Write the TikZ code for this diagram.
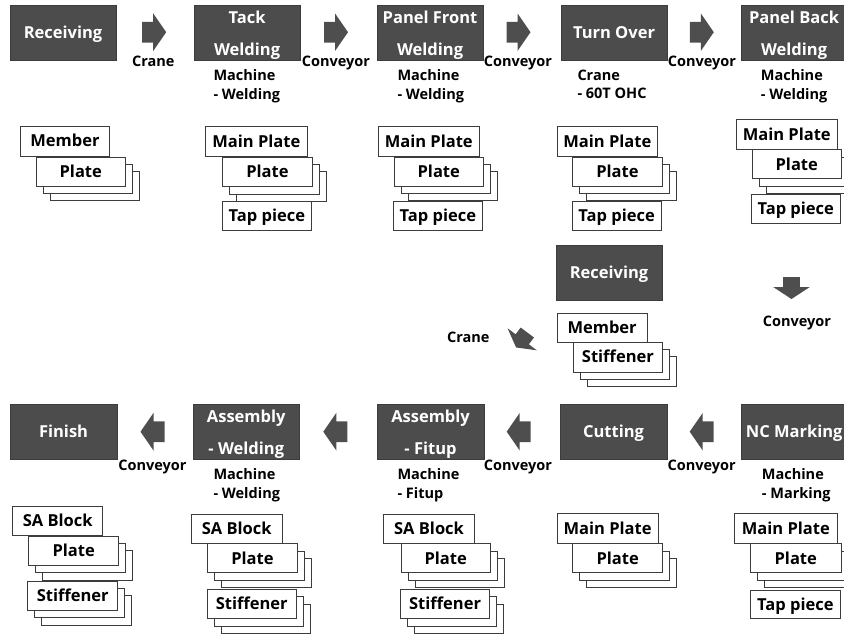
\documentclass[tikz,border=0pt]{standalone}
\usepackage{fontspec}
\setmainfont{Open Sans}
\usetikzlibrary{shadows}

\definecolor{stagegray}{RGB}{76,76,76}
\definecolor{stageedge}{RGB}{60,60,60}
\definecolor{arrowgray}{RGB}{78,78,78}
\definecolor{itemedge}{RGB}{60,60,60}

\newcommand\stagefont{\fontsize{16.5}{32}\selectfont\bfseries}
\newcommand\itemfont{\fontsize{16.5}{20}\selectfont\bfseries}
\newcommand\notefont{\fontsize{14.5}{18.5}\selectfont\bfseries}

\begin{document}
\begin{tikzpicture}[x=1pt, y=-1pt,
  stage/.style={fill=stagegray, draw=stageedge, line width=0.6pt, anchor=north west,
    inner sep=0pt, minimum width=105.5pt, minimum height=54.5pt, text=white,
    font=\stagefont, align=center},
  oneline/.style={text height=12pt, text depth=0.4pt},
  wide/.style={minimum width=106.5pt},
  item/.style={draw=itemedge, fill=white, line width=0.8pt, anchor=north west,
    inner sep=0pt, minimum height=29.5pt, font=\itemfont, oneline},
  layered/.style={item, double copy shadow={shadow xshift=7pt, shadow yshift=-7.3pt,
    draw=itemedge, fill=white, line width=0.8pt}},
  note/.style={anchor=north west, inner sep=0pt, align=left, font=\notefont},
  carrier/.style={anchor=base, inner sep=0pt, font=\notefont},
  blockarr/.pic={\fill[arrowgray] (-12,-10.3) -- (-1,-10.3) -- (-1,-18.8) -- (12,0)
    -- (-1,18.8) -- (-1,10.3) -- (-12,10.3) -- cycle;},
  squatarr/.pic={\fill[arrowgray] (-10,-8.3) -- (0,-8.3) -- (0,-18.3) -- (12,0)
    -- (0,18.3) -- (0,8.3) -- (-10,8.3) -- cycle;}
]
\useasboundingbox (0,0) rectangle (844,635);
\clip (0,0) rectangle (844,635);

% ---------- upper line: panel assembly ----------
\node[stage, oneline] (recvA) at (10,5) {Receiving};
\node[stage] (tack) at (194,5) {\rule{0pt}{17pt}Tack\\Welding};
\node[stage] (pfront) at (377,5) {\rule{0pt}{17pt}Panel Front\\Welding};
\node[stage, oneline] (turn) at (561,5) {Turn Over};
\node[stage] (pback) at (741,5) {\rule{0pt}{17pt}Panel Back\\Welding};

\pic at (154.2,32.2) {blockarr};
\pic at (336,32.2) {blockarr};
\pic at (518.5,32.2) {blockarr};
\pic at (701.8,32.2) {blockarr};

\node[carrier] (c1) at (153.3,66.7) {Crane};
\node[carrier] (c2) at (336,66.7) {Conveyor};
\node[carrier] (c3) at (518,66.7) {Conveyor};
\node[carrier] (c4) at (702,66.7) {Conveyor};

\node[note] (n2) at (213.3,69.5) {Machine\\- Welding};
\node[note] (n3) at (397.3,69.5) {Machine\\- Welding};
\node[note] (n4) at (577.3,69.5) {Crane\\- 60T OHC};
\node[note] (n5) at (760.7,69.5) {Machine\\- Welding};

% parts handled at each station
\node[item, minimum width=89pt] (mem1) at (20,126) {Member};
\node[layered, minimum width=89.3pt, minimum height=29.2pt] (pl1) at (35.7,156.5) {Plate};

\node[item, minimum width=102pt, minimum height=30pt] (mp2) at (205,126) {Main Plate};
\node[layered, minimum width=89.4pt] (pl2) at (222.3,156.7) {Plate};
\node[item, minimum width=88.4pt, minimum height=29pt] (tp2) at (222.3,201) {Tap piece};

\node[item, minimum width=101.3pt, minimum height=30pt] (mp3) at (377.7,126) {Main Plate};
\node[layered, minimum width=88.7pt, minimum height=29pt] (pl3) at (394,156.7) {Plate};
\node[item, minimum width=89.6pt, minimum height=29pt] (tp3) at (392.7,201) {Tap piece};

\node[item, minimum width=100.6pt, minimum height=30pt] (mp4) at (556.7,126) {Main Plate};
\node[layered, minimum width=89.4pt, minimum height=29pt] (pl4) at (572.3,156.7) {Plate};
\node[item, minimum width=89pt, minimum height=29pt] (tp4) at (571.7,201) {Tap piece};

\node[item, minimum width=100.7pt, minimum height=30pt] (mp5) at (736,119.3) {Main Plate};
\node[layered, minimum width=89.3pt, minimum height=29pt] (pl5) at (751.7,149.3) {Plate};
\node[item, minimum width=89.3pt, minimum height=28.7pt] (tp5) at (750.7,194) {Tap piece};

% ---------- stiffener supply ----------
\node[stage, oneline] (recvB) at (556,245) {Receiving};
\node[item, minimum width=90pt, minimum height=29pt] (mem2) at (556.7,312.7) {Member};
\node[layered, minimum width=89.6pt, minimum height=30pt] (st0) at (572.7,341.7) {Stiffener};

\pic[rotate=-90] at (791.5,287) {squatarr};
\node[carrier] (c5) at (797,326) {Conveyor};
\pic[rotate=233, xscale=0.85] at (522.2,339.3) {squatarr};
\node[carrier] (c6) at (468.3,342.7) {Crane};

% ---------- lower line: sub-assembly ----------
\node[stage, wide, oneline] (fin) at (10,404) {Finish};
\node[stage, wide] (asmw) at (192.7,404) {\rule{0pt}{17pt}Assembly\\- Welding};
\node[stage, wide] (asmf) at (377,404) {\rule{0pt}{17pt}Assembly\\- Fitup};
\node[stage, wide, oneline] (cut) at (560,404) {Cutting};
\node[stage, wide, oneline] (ncm) at (740.7,404) {NC Marking};

\pic[rotate=180] at (152.5,431.7) {blockarr};
\pic[rotate=180] at (335.3,431.7) {blockarr};
\pic[rotate=180] at (518.7,431.7) {blockarr};
\pic[rotate=180] at (701.7,431.7) {blockarr};

\node[carrier] (c7) at (152.5,470) {Conveyor};
\node[carrier] (c8) at (518,470) {Conveyor};
\node[carrier] (c9) at (701.7,470) {Conveyor};

\node[note] (n7) at (213.3,468.5) {Machine\\- Welding};
\node[note] (n8) at (397.3,468.5) {Machine\\- Fitup};
\node[note] (n9) at (761.7,468.5) {Machine\\- Marking};

\node[item, minimum width=90pt, minimum height=29pt] (sa1) at (12.3,506) {SA Block};
\node[layered, minimum width=90pt] (pl6) at (28.3,535.5) {Plate};
\node[layered, minimum width=90pt, minimum height=29.3pt] (st1) at (27.3,580.7) {Stiffener};

\node[item, minimum width=90.7pt, minimum height=29.3pt] (sa2) at (191,514) {SA Block};
\node[layered, minimum width=89.4pt, minimum height=29pt] (pl7) at (207.3,543.3) {Plate};
\node[layered, minimum width=89.3pt, minimum height=29.3pt] (st2) at (206.7,589) {Stiffener};

\node[item, minimum width=90.7pt, minimum height=29.3pt] (sa3) at (383.3,514) {SA Block};
\node[layered, minimum width=89.4pt, minimum height=29pt] (pl8) at (400.6,543.3) {Plate};
\node[layered, minimum width=89.3pt, minimum height=29.3pt] (st3) at (400,589) {Stiffener};

\node[item, minimum width=101pt, minimum height=30pt] (mp6) at (556.7,513.3) {Main Plate};
\node[layered, minimum width=90pt, minimum height=29pt] (pl9) at (572.3,543.3) {Plate};

\node[item, minimum width=102.4pt, minimum height=30.3pt] (mp7) at (734.3,513) {Main Plate};
\node[layered, minimum width=90.7pt, minimum height=29pt] (pl10) at (750,543.3) {Plate};
\node[item, minimum width=90pt, minimum height=27.7pt] (tp7) at (750,590) {Tap piece};
\end{tikzpicture}
\end{document}
